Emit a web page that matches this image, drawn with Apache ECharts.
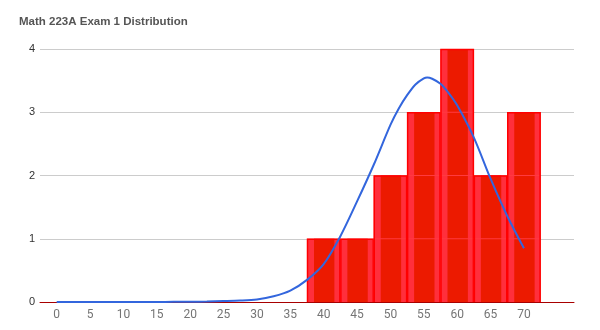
<!DOCTYPE html>
<html>
<head>
<meta charset="utf-8">
<script src="https://cdn.jsdelivr.net/npm/echarts@6/dist/echarts.min.js"></script>
<style>
html,body{margin:0;padding:0;background:#fff;}
#chart{width:600px;height:330px;}
</style>
</head>
<body>
<div id="chart"></div>
<script>
// Histogram bin centers and counts
var binCenters = [40, 45, 50, 55, 60, 65, 70];
var binCounts  = [1, 1, 2, 3, 4, 2, 3];
var binWidth = 5;

// Fitted distribution curve
var curveX = [0, 5, 10, 15, 17.5, 20, 22.5, 25, 27.5, 30, 32.5, 35, 37.5, 40, 42.5, 45, 47.5, 50, 51.25, 52.5, 53.75, 55, 55.5, 56.25, 57.5, 58.75, 60, 62.5, 65, 67.5, 70];
var curveY = [0, 0, 0, 0, 0.002, 0.004, 0.008, 0.014, 0.022, 0.04, 0.09, 0.18, 0.35, 0.6, 1.04, 1.59, 2.17, 2.8, 3.06, 3.27, 3.44, 3.535, 3.55, 3.53, 3.45, 3.3, 3.11, 2.6, 1.95, 1.36, 0.85];

// Axis tick labels
var xTicks = [0, 5, 10, 15, 20, 25, 30, 35, 40, 45, 50, 55, 60, 65, 70];
var yTicks = [0, 1, 2, 3, 4];

var barData = binCenters.map(function (c, i) { return [c, binCounts[i]]; });
var lineData = curveX.map(function (x, i) { return [x, curveY[i]]; });

var chart = echarts.init(document.getElementById('chart'));
chart.setOption({
  animation: false,
  title: {
    text: 'Math 223A Exam 1 Distribution',
    left: 14, top: 11,
    textStyle: { fontFamily: 'Liberation Sans, Arial, sans-serif', fontSize: 11.5, fontWeight: 'bold', color: '#555555' }
  },
  grid: { left: 40, right: 26, top: 49, bottom: 28 },
  xAxis: {
    type: 'value',
    min: -2.5, max: 77.5,
    splitLine: { show: false },
    axisTick: { show: false },
    axisLine: { show: true, lineStyle: { color: '#a80000', width: 1 } },
    axisLabel: {
      customValues: xTicks,
      color: '#757575', fontSize: 12, margin: 7,
      fontFamily: 'Roboto, Arial, sans-serif'
    }
  },
  yAxis: {
    type: 'value',
    min: yTicks[0], max: yTicks[yTicks.length - 1], interval: 1,
    axisLine: { show: false },
    axisTick: { show: false },
    splitLine: { lineStyle: { color: '#cccccc', width: 1 } },
    axisLabel: { color: '#333333', fontSize: 11, margin: 5, fontFamily: 'Liberation Sans, Arial, sans-serif' }
  },
  series: [
    {
      type: 'custom',
      data: barData,
      z: 2,
      renderItem: function (params, api) {
        var c = api.value(0), n = api.value(1);
        var tl = api.coord([c - binWidth / 2, n]);
        var br = api.coord([c + binWidth / 2, 0]);
        var x0 = tl[0], x1 = br[0], y0 = tl[1], y1 = br[1];
        var children = [
          { type: 'rect', shape: { x: x0, y: y0, width: x1 - x0, height: y1 - y0 }, style: { fill: '#ff2f3c' } },
          { type: 'rect', shape: { x: x0 + 7, y: y0, width: x1 - x0 - 13, height: y1 - y0 }, style: { fill: '#ec1a00' } }
        ];
        for (var k = 1; k < n; k++) {
          var yy = api.coord([c, k])[1];
          children.push({ type: 'line', shape: { x1: x0, y1: yy, x2: x1, y2: yy }, style: { stroke: '#ff3a40', lineWidth: 1 } });
        }
        children.push({ type: 'polyline', shape: { points: [[x0 + 0.5, y1], [x0 + 0.5, y0 + 0.5], [x1 - 0.5, y0 + 0.5], [x1 - 0.5, y1]] }, style: { stroke: '#ff0000', lineWidth: 1.5, fill: null } });
        return { type: 'group', children: children };
      }
    },
    {
      type: 'line',
      data: lineData,
      smooth: 0.3,
      showSymbol: false,
      symbol: 'none',
      z: 5,
      lineStyle: { color: '#3366dd', width: 2 }
    }
  ]
});
</script>
</body>
</html>
